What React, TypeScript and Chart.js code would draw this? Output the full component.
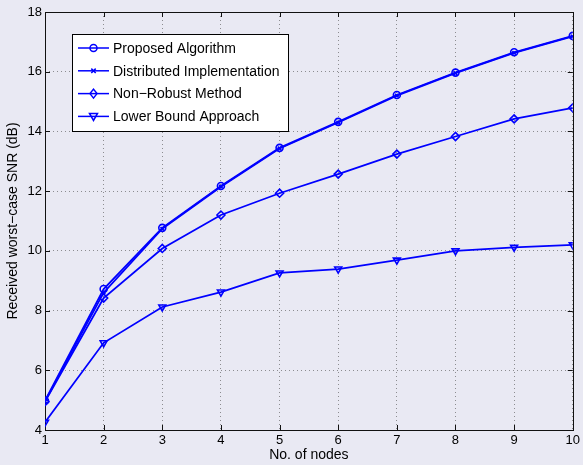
import React, { useEffect, useRef } from 'react';
import { Chart, registerables } from 'chart.js';
Chart.register(...registerables);

const nodes = [1, 2, 3, 4, 5, 6, 7, 8, 9, 10];
const proposed = [4.98, 8.72, 10.77, 12.17, 13.45, 14.32, 15.22, 15.97, 16.65, 17.2];
const distributed = [4.96, 8.6, 10.74, 12.15, 13.43, 14.3, 15.2, 15.95, 16.63, 17.18];
const nonRobust = [4.95, 8.42, 10.08, 11.2, 11.93, 12.57, 13.24, 13.83, 14.42, 14.79];
const lowerBound = [4.26, 6.92, 8.12, 8.62, 9.26, 9.39, 9.69, 10.0, 10.12, 10.2];
const seriesLabels = ['Proposed Algorithm', 'Distributed Implementation', 'Non\u2212Robust Method', 'Lower Bound Approach'];
const markerStyles = ['circle', 'cross', 'diamond', 'triangleDown'];
const xTitle = 'No. of nodes';
const yTitle = 'Received worst\u2212case SNR (dB)';

const BLUE = 'rgb(0,0,255)';
const BG = 'rgb(233,233,243)';
const FONT = '"Liberation Sans", Arial, Helvetica, sans-serif';

function drawMarker(ctx: CanvasRenderingContext2D, style: string, x: number, y: number) {
  ctx.save();
  ctx.strokeStyle = BLUE;
  ctx.lineWidth = 1.5;
  ctx.beginPath();
  if (style === 'circle') {
    ctx.arc(x, y, 3.5, 0, Math.PI * 2);
  } else if (style === 'cross') {
    const r = 2.2;
    ctx.moveTo(x - r, y - r); ctx.lineTo(x + r, y + r);
    ctx.moveTo(x + r, y - r); ctx.lineTo(x - r, y + r);
  } else if (style === 'diamond') {
    ctx.moveTo(x, y - 4.5); ctx.lineTo(x + 3.5, y); ctx.lineTo(x, y + 4.5); ctx.lineTo(x - 3.5, y); ctx.closePath();
  } else {
    ctx.moveTo(x - 4, y - 3); ctx.lineTo(x + 4, y - 3); ctx.lineTo(x, y + 4); ctx.closePath();
  }
  ctx.stroke();
  ctx.restore();
}

const bgPlugin = {
  id: 'bg',
  beforeDraw(chart: any) {
    const { ctx, width, height } = chart;
    ctx.save();
    ctx.fillStyle = BG;
    ctx.fillRect(0, 0, width, height);
    ctx.restore();
  },
};

const framePlugin = {
  id: 'frame',
  beforeDatasetsDraw(chart: any) {
    const { ctx, chartArea, scales } = chart;
    const { left, right, top, bottom } = chartArea;
    ctx.save();
    ctx.strokeStyle = '#111';
    ctx.lineWidth = 1;
    ctx.strokeRect(Math.round(left) + 0.5, Math.round(top) + 0.5, Math.round(right - left), Math.round(bottom - top));
    const tl = 5;
    scales.x.ticks.forEach((t: any) => {
      const px = Math.round(scales.x.getPixelForValue(t.value)) + 0.5;
      ctx.beginPath();
      ctx.moveTo(px, bottom); ctx.lineTo(px, bottom - tl);
      ctx.moveTo(px, top); ctx.lineTo(px, top + tl);
      ctx.stroke();
    });
    scales.y.ticks.forEach((t: any) => {
      const py = Math.round(scales.y.getPixelForValue(t.value)) + 0.5;
      ctx.beginPath();
      ctx.moveTo(left, py); ctx.lineTo(left + tl, py);
      ctx.moveTo(right, py); ctx.lineTo(right - tl, py);
      ctx.stroke();
    });
    ctx.restore();
  },
  afterDraw(chart: any) {
    const { ctx, chartArea } = chart;
    const bx = Math.round(chartArea.left) + 27;
    const by = Math.round(chartArea.top) + 22;
    const bw = 216;
    const bh = 97;
    ctx.save();
    ctx.fillStyle = '#fff';
    ctx.fillRect(bx, by, bw, bh);
    ctx.strokeStyle = '#000';
    ctx.lineWidth = 1;
    ctx.strokeRect(bx + 0.5, by + 0.5, bw, bh);
    ctx.font = `14px ${FONT}`;
    ctx.fillStyle = '#000';
    ctx.textBaseline = 'middle';
    ctx.textAlign = 'left';
    chart.data.datasets.forEach((ds: any, i: number) => {
      const ry = by + 14 + i * 22.8;
      ctx.strokeStyle = BLUE;
      ctx.lineWidth = 1.5;
      ctx.beginPath();
      ctx.moveTo(bx + 6, ry); ctx.lineTo(bx + 37, ry);
      ctx.stroke();
      drawMarker(ctx, markerStyles[i], bx + 21.5, ry);
      ctx.fillStyle = '#000';
      ctx.fillText(ds.label, bx + 41, ry + 1);
    });
    ctx.restore();
  },
};

export default function App() {
  const ref = useRef<HTMLCanvasElement>(null);
  useEffect(() => {
    document.body.style.margin = '0';
    const mk = (label: string, values: number[], extra: any) => ({
      label,
      data: nodes.map((n, i) => ({ x: n, y: values[i] })),
      borderColor: BLUE,
      borderWidth: 1.8,
      pointBorderColor: BLUE,
      pointBackgroundColor: 'rgba(0,0,0,0)',
      pointBorderWidth: 1.6,
      fill: false,
      tension: 0,
      ...extra,
    });
    const chart = new Chart(ref.current!, {
      type: 'line',
      data: {
        datasets: [
          mk(seriesLabels[0], proposed, { pointStyle: 'circle', pointRadius: 3.5 }),
          mk(seriesLabels[1], distributed, { pointStyle: 'crossRot', pointRadius: 2.5 }),
          mk(seriesLabels[2], nonRobust, { pointStyle: 'rectRot', pointRadius: 4 }),
          mk(seriesLabels[3], lowerBound, { pointStyle: 'triangle', pointRadius: 4, pointRotation: 180 }),
        ],
      },
      options: {
        responsive: false,
        animation: false,
        layout: { padding: { left: 0, right: 8, top: 12, bottom: 0 } },
        plugins: { legend: { display: false }, tooltip: { enabled: false } },
        font: { family: FONT, size: 13 },
        scales: {
          x: {
            type: 'linear',
            min: 1,
            max: 10,
            ticks: { stepSize: 1, color: '#000', font: { family: FONT, size: 13 }, padding: 3, maxRotation: 0 },
            grid: { color: 'rgba(90,90,90,0.65)', drawTicks: false, lineWidth: 1 },
            border: { display: false, dash: [1, 3] },
            title: { display: true, text: xTitle, color: '#000', font: { family: FONT, size: 14 }, padding: { top: 0, bottom: 1 } },
            afterFit: (s: any) => { s.height = 35; },
          },
          y: {
            type: 'linear',
            min: 4,
            max: 18,
            ticks: { stepSize: 2, color: '#000', font: { family: FONT, size: 13 }, padding: 3 },
            grid: { color: 'rgba(90,90,90,0.65)', drawTicks: false, lineWidth: 1 },
            border: { display: false, dash: [1, 3] },
            title: { display: true, text: yTitle, color: '#000', font: { family: FONT, size: 14 }, padding: { top: 5, bottom: 5 } },
            afterFit: (s: any) => { s.width = 45; },
          },
        },
      } as any,
      plugins: [bgPlugin, framePlugin],
    });
    return () => chart.destroy();
  }, []);
  return (
    <div style={{ position: 'absolute', left: 0, top: 0, width: 583, height: 465 }}>
      <canvas ref={ref} width={583} height={465} style={{ display: 'block' }} />
    </div>
  );
}
